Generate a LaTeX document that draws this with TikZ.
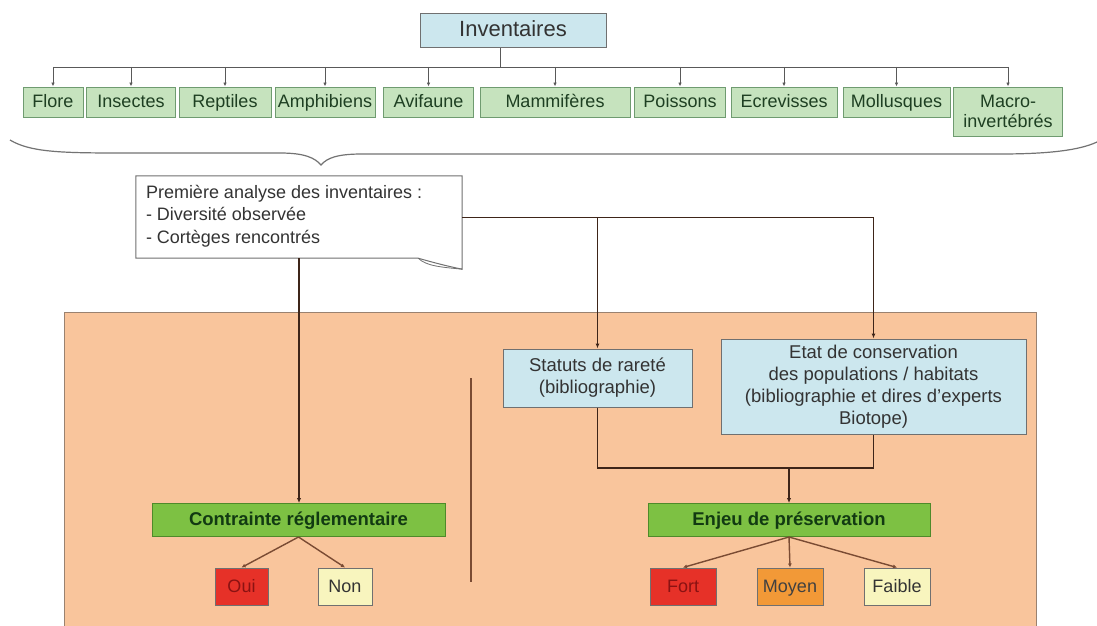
\documentclass[tikz,border=0pt]{standalone}
\usepackage{fontspec}
\setmainfont{Liberation Sans}
\usetikzlibrary{arrows.meta}
\definecolor{lblue}{HTML}{CCE7EE}
\definecolor{lgreen}{HTML}{C6E3BE}
\definecolor{lgreenb}{HTML}{6F9B70}
\definecolor{gtext}{HTML}{1E3F22}
\definecolor{bgreen}{HTML}{7DC143}
\definecolor{bgreenb}{HTML}{4E8A2A}
\definecolor{btext}{HTML}{123A12}
\definecolor{cred}{HTML}{E63128}
\definecolor{credt}{HTML}{8A1212}
\definecolor{corange}{HTML}{F29937}
\definecolor{cyellow}{HTML}{F8F5BE}
\definecolor{peach}{HTML}{F9C59C}
\definecolor{peachb}{HTML}{9A8270}
\definecolor{boxb}{HTML}{707070}
\definecolor{brownl}{HTML}{3E2519}
\definecolor{brownm}{HTML}{7A4B33}
\tikzset{
  every node/.style={font=\fontsize{18}{21.5}\selectfont, inner sep=0pt},
  fixh/.style={text height=14pt, text depth=3pt},
  gbox/.style={draw=lgreenb, fill=lgreen, line width=1pt, text=gtext, minimum height=30pt, fixh},
  bluebox/.style={draw=boxb, fill=lblue, line width=1pt, text=black!80, align=center},
  bigbox/.style={draw=bgreenb, fill=bgreen, line width=1pt, text=btext, font=\fontsize{18.5}{21.5}\selectfont\bfseries, minimum height=33pt, fixh},
  smallbox/.style={draw=boxb, line width=1pt, minimum height=37pt, fixh},
  topline/.style={draw=black!65, line width=0.9pt},
  toparr/.style={topline, -{Latex[length=4pt,width=3.5pt]}},
  darr/.style={draw=brownl, line width=1.8pt, -{Latex[length=5pt,width=4.5pt]}},
  dline/.style={draw=brownl, line width=1.8pt},
  thinarr/.style={draw=brownl, line width=1pt, -{Latex[length=5pt,width=4pt]}},
  farr/.style={draw=brownm, line width=1.4pt, -{Latex[length=4pt,width=4pt]}},
}
\begin{document}
\begin{tikzpicture}[x=1pt,y=-1pt]
\useasboundingbox (0,0) rectangle (1097,626);
\fill[white] (0,0) rectangle (1097,626);

% orange area
\fill[peach] (64,312) rectangle (1036,626);
\draw[peachb, line width=1pt] (64,626) -- (64,312) -- (1036,312) -- (1036,626);

% top
\node[bluebox, minimum width=186pt, minimum height=34pt, font=\fontsize{22}{24}\selectfont, text height=16pt, text depth=4pt] (inv) at (513,31) {Inventaires};

\node[gbox, minimum width=60pt]  (flore) at (53,102) {Flore};
\node[gbox, minimum width=89pt]  (insectes) at (131,102) {Insectes};
\node[gbox, minimum width=92pt]  (reptiles) at (225,102) {Reptiles};
\node[gbox, minimum width=100pt] (amphibiens) at (325,102) {Amphibiens};
\node[gbox, minimum width=90pt]  (avifaune) at (428.5,102) {Avifaune};
\node[gbox, minimum width=150pt] (mammiferes) at (555,102) {Mammifères};
\node[gbox, minimum width=91pt]  (poissons) at (680,102) {Poissons};
\node[gbox, minimum width=106pt] (ecrevisses) at (784,102) {Ecrevisses};
\node[gbox, minimum width=107pt] (mollusques) at (896.5,102) {Mollusques};
\node[draw=lgreenb, fill=lgreen, line width=1pt, text=gtext, minimum width=109pt, minimum height=49pt, align=center, font=\fontsize{18}{20}\selectfont] (macro) at (1008,111.5) {Macro-\\invertébrés};

\coordinate (drop) at (500,67);
\draw[topline] ([xshift=-13pt]inv.south) -- (drop);
\draw[topline] (drop -| flore) -- (drop -| macro.north);
\foreach \n in {flore,insectes,reptiles,amphibiens,avifaune,mammiferes,poissons,ecrevisses,mollusques}{
  \draw[toparr] (drop -| \n) -- (\n.north);
}
\draw[toparr] (drop -| macro.north) -- (macro.north);

% brace
\draw[black!55, line width=1.2pt] (10,140) .. controls (30,152) and (60,153) .. (120,153) -- (280,153)
  .. controls (305,153) and (315,158) .. (321,165)
  .. controls (327,158) and (337,154) .. (362,154) -- (1000,154)
  .. controls (1050,154) and (1080,150) .. (1097,142);

% note
\node[minimum width=326pt, minimum height=82pt] (note) at (299,217) {};
\draw[boxb, line width=1pt, fill=white] (note.north west) -- (note.north east) -- ([yshift=-11pt]note.south east)
  .. controls ([xshift=-15pt,yshift=-8pt]note.south east) and ([xshift=-30pt,yshift=-4pt]note.south east) .. ([xshift=-44pt]note.south east)
  -- (note.south west) -- cycle;
\draw[boxb, line width=0.8pt] ([xshift=-44pt]note.south east) .. controls ([xshift=-36pt,yshift=-8pt]note.south east) and ([xshift=-20pt,yshift=-9pt]note.south east) .. ([yshift=-11pt]note.south east);
\node[anchor=north west, align=left, text=black!80, font=\fontsize{18}{22.5}\selectfont] (notetext) at ([xshift=10pt,yshift=-9pt]note.north west)
  {Première analyse des inventaires :\\- Diversité observée\\- Cortèges rencontrés};

% blue boxes
\node[bluebox, minimum width=189pt, minimum height=58pt, font=\fontsize{18.5}{22}\selectfont] (statuts) at (597.5,378) {Statuts de rareté\\(bibliographie)};
\node[bluebox, minimum width=305pt, minimum height=95pt, font=\fontsize{18.5}{22}\selectfont] (etat) at (873.5,386.5)
  {Etat de conservation\\des populations / habitats\\(bibliographie et dires d’experts\\Biotope)};

\draw[topline, draw=brownl] (note.east) -- (note.east -| etat.north);
\draw[thinarr] (note.east -| statuts.north) -- (statuts.north);
\draw[thinarr] (note.east -| etat.north) -- (etat.north);

% separator
\draw[brownm, line width=1.2pt] (471,378) -- (471,582);

% bottom
\node[bigbox, minimum width=293pt] (contrainte) at (298.5,520) {Contrainte réglementaire};
\node[bigbox, minimum width=282pt] (enjeu) at (789,520) {Enjeu de préservation};

\draw[darr] (note.south) -- (note.south |- contrainte.north);

\coordinate (join) at (789,468);
\draw[dline] (statuts.south) -- (statuts.south |- join) -- (etat.south |- join) -- (etat.south);
\draw[darr] (join) -- (enjeu.north);

\node[smallbox, fill=cred, text=credt, minimum width=53pt] (oui) at (241.5,586.5) {Oui};
\node[smallbox, fill=cyellow, text=black!80, minimum width=54pt] (non) at (345,586.5) {Non};
\node[smallbox, fill=cred, text=credt, minimum width=66pt] (fort) at (683,586.5) {Fort};
\node[smallbox, fill=corange, text=black!75, minimum width=66pt] (moyen) at (790,586.5) {Moyen};
\node[smallbox, fill=cyellow, text=black!80, minimum width=66pt] (faible) at (897,586.5) {Faible};

\draw[farr] (contrainte.south) -- (oui.north);
\draw[farr] (contrainte.south) -- (non.north);
\draw[farr] (enjeu.south) -- (fort.north);
\draw[farr] (enjeu.south) -- (moyen.north);
\draw[farr] (enjeu.south) -- (faible.north);
\end{tikzpicture}
\end{document}
